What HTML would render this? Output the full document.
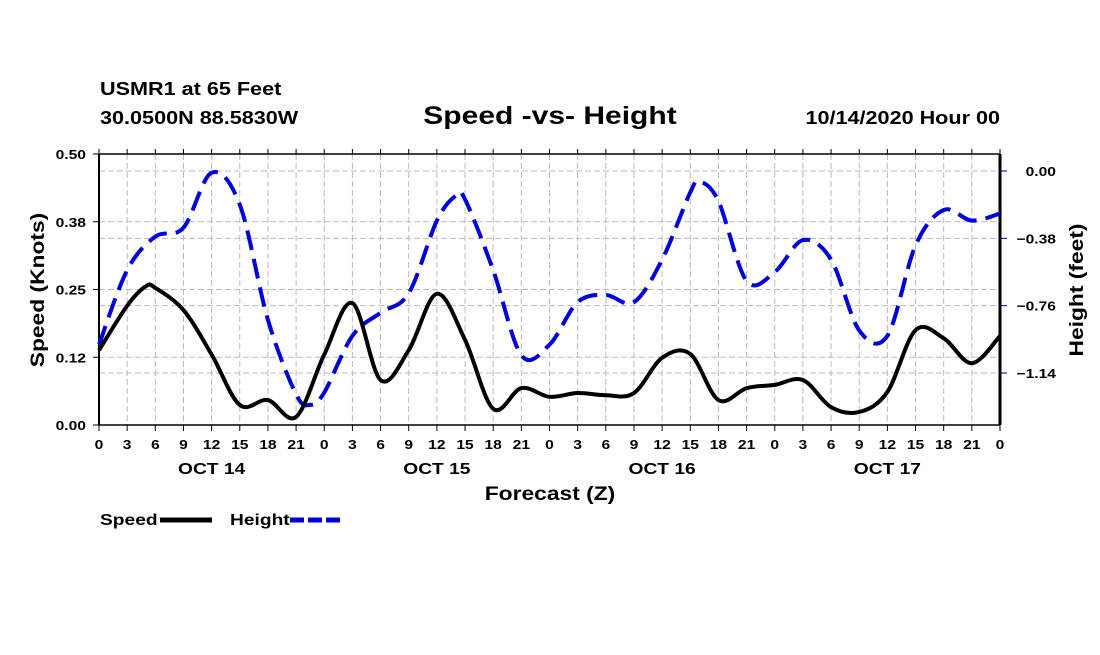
<!DOCTYPE html>
<html><head><meta charset="utf-8"><style>
body{margin:0;background:#fff;}
svg text{font-family:"Liberation Sans",sans-serif;font-weight:bold;fill:#000;}
</style></head><body>
<svg id="c" width="1100" height="650">
<text x="100" y="95" font-size="18">USMR1 at 65 Feet</text>
<text x="100" y="124" font-size="18">30.0500N 88.5830W</text>
<text x="550" y="124" font-size="25" text-anchor="middle">Speed -vs- Height</text>
<text x="1000" y="124" font-size="18" text-anchor="end">10/14/2020 Hour 00</text>
<g id="grid"></g><g id="axes"></g><g id="series"></g>
<text x="550" y="500" font-size="19" text-anchor="middle">Forecast (Z)</text>
<text transform="translate(44,290) rotate(-90)" font-size="19" text-anchor="middle">Speed (Knots)</text>
<text transform="translate(1083,290) rotate(-90)" font-size="19" text-anchor="middle">Height (feet)</text>
<g>
<text x="100" y="525" font-size="16">Speed</text>
<line x1="160" y1="520" x2="212" y2="520" stroke="#000" stroke-width="5"/>
<text x="230" y="525" font-size="16">Height</text>
<line x1="290" y1="520" x2="342" y2="520" stroke="#0000dd" stroke-width="5" stroke-dasharray="14,4"/>
</g>
</svg>
<script>
const hours=[0,3,5,6,9,12,15,18,21,24,27,30,33,36,39,42,45,48,51,54,57,60,63,66,69,72,75,78,81,84,87,90,93,96];
const speed=[0.138,0.22,0.256,0.253,0.212,0.13,0.037,0.046,0.015,0.13,0.225,0.083,0.138,0.242,0.157,0.03,0.068,0.052,0.059,0.055,0.059,0.124,0.131,0.046,0.068,0.074,0.083,0.033,0.024,0.061,0.175,0.16,0.114,0.164];
const hHours=[0,3,6,9,12,15,18,21,22.5,24,27,30,33,36,38,39,42,45,48,51,54,57,60,63,64,66,69,72,75,78,81,84,87,90,93,96];
const height=[-0.98,-0.56,-0.37,-0.32,-0.01,-0.19,-0.84,-1.26,-1.32,-1.25,-0.93,-0.80,-0.69,-0.28,-0.14,-0.16,-0.56,-1.04,-0.98,-0.74,-0.70,-0.74,-0.50,-0.12,-0.06,-0.17,-0.62,-0.57,-0.39,-0.50,-0.90,-0.93,-0.42,-0.22,-0.28,-0.24];
const leftTicks=[0,0.125,0.25,0.375,0.5];
const leftLabels=["0.00","0.12","0.25","0.38","0.50"];
const rightTicks=[0,-0.38,-0.76,-1.14];
const rightLabels=["0.00","\u22120.38","\u22120.76","\u22121.14"];
const dayLabels=["OCT 14","OCT 15","OCT 16","OCT 17"];
const X0=99,X1=1000,Y0=425,Y1=154;
const x=h=>X0+h*(X1-X0)/96;
const yL=v=>Y0-v*(Y0-Y1)/0.5;
const yR=v=>171-v*(171-373)/(-1.14);
const NS="http://www.w3.org/2000/svg";
function mk(p,t,a){const e=document.createElementNS(NS,t);for(const k in a)e.setAttribute(k,a[k]);p.appendChild(e);return e;}
const grid=document.getElementById('grid'),axes=document.getElementById('axes'),ser=document.getElementById('series');
for(let i=1;i<32;i++){const l=mk(grid,'line',{x1:x(i*3),x2:x(i*3),y1:Y1,y2:Y0,stroke:'#bbb','stroke-dasharray':'6,3'});

}
leftTicks.slice(1,4).forEach(v=>{const l=mk(grid,'line',{x1:X0,x2:X1,y1:yL(v),y2:yL(v),stroke:'#bbb','stroke-dasharray':'6,3'});

});
rightTicks.forEach(v=>{const l=mk(grid,'line',{x1:X0,x2:X1,y1:yR(v),y2:yR(v),stroke:'#bbb','stroke-dasharray':'6,3'});

});
mk(axes,'line',{x1:X0,x2:X1,y1:Y1,y2:Y1,stroke:'#000','stroke-width':1.5});
mk(axes,'line',{x1:X0,x2:X1,y1:Y0,y2:Y0,stroke:'#000','stroke-width':1.5});
mk(axes,'line',{x1:X0,x2:X0,y1:Y1,y2:Y0,stroke:'#000','stroke-width':2});
mk(axes,'line',{x1:X1,x2:X1,y1:Y1,y2:Y0,stroke:'#000','stroke-width':3});
for(let i=0;i<=32;i++){const h=i*3;
mk(axes,'line',{x1:x(h),x2:x(h),y1:Y0,y2:Y0+6,stroke:'#000'});
mk(axes,'line',{x1:x(h),x2:x(h),y1:Y1,y2:Y1-5,stroke:'#000'});
const t=mk(axes,'text',{x:x(h),y:449,'font-size':13,'text-anchor':'middle'});t.textContent=String(h%24);

}
dayLabels.forEach((d,i)=>{const t=mk(axes,'text',{x:x(12+24*i),y:474,'font-size':16,'text-anchor':'middle'});t.textContent=d;

});
leftTicks.forEach((v,i)=>{mk(axes,'line',{x1:X0-6,x2:X0,y1:yL(v),y2:yL(v),stroke:'#000'});
const t=mk(axes,'text',{x:86,y:yL(v)+5,'font-size':13,'text-anchor':'end'});t.textContent=leftLabels[i];

});
rightTicks.forEach((v,i)=>{mk(axes,'line',{x1:X1,x2:X1+7,y1:yR(v),y2:yR(v),stroke:'#00008b'});
const t=mk(axes,'text',{x:1056,y:yR(v)+5,'font-size':13,'text-anchor':'end'});t.textContent=rightLabels[i];

});
function path(xs,ys){const P=xs.map((h,i)=>[x(h),ys[i]]);let d='M'+P[0][0]+','+P[0][1];
for(let i=0;i<P.length-1;i++){const p0=P[Math.max(0,i-1)],p1=P[i],p2=P[i+1],p3=P[Math.min(P.length-1,i+2)];
d+=' C'+(p1[0]+(p2[0]-p0[0])/6)+','+(p1[1]+(p2[1]-p0[1])/6)+' '+(p2[0]-(p3[0]-p1[0])/6)+','+(p2[1]-(p3[1]-p1[1])/6)+' '+p2[0]+','+p2[1];}return d;}
const hp=mk(ser,'path',{d:path(hHours,height.map(yR)),fill:'none',stroke:'#0000dd','stroke-width':4,'stroke-dasharray':'20,9'});


const sp=mk(ser,'path',{d:path(hours,speed.map(yL)),fill:'none',stroke:'#000','stroke-width':4});


document.querySelectorAll('svg text').forEach(t=>{const w=t.getComputedTextLength();if(w>0){t.setAttribute('textLength',(w*1.2).toFixed(1));t.setAttribute('lengthAdjust','spacingAndGlyphs');}});
</script>
</body></html>
